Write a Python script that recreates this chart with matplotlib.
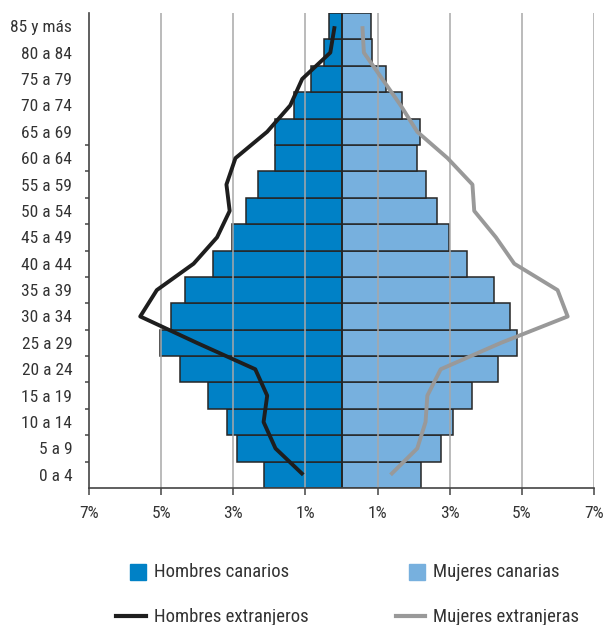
import matplotlib
matplotlib.use("Agg")
import matplotlib.pyplot as plt
from matplotlib.patches import Rectangle
from matplotlib.lines import Line2D
import numpy as np

plt.rcParams['font.family'] = ['Roboto Condensed', 'DejaVu Sans']

grupos = ["0 a 4", "5 a 9", "10 a 14", "15 a 19", "20 a 24", "25 a 29", "30 a 34",
          "35 a 39", "40 a 44", "45 a 49", "50 a 54", "55 a 59", "60 a 64",
          "65 a 69", "70 a 74", "75 a 79", "80 a 84", "85 y más"]

hombres_canarios = [2.16, 2.90, 3.18, 3.70, 4.48, 5.04, 4.74, 4.33, 3.55, 3.03,
                    2.66, 2.32, 1.84, 1.84, 1.31, 0.84, 0.49, 0.35]
mujeres_canarias = [2.20, 2.75, 3.10, 3.63, 4.33, 4.86, 4.67, 4.23, 3.48, 2.99,
                    2.66, 2.33, 2.10, 2.19, 1.69, 1.24, 0.84, 0.82]
hombres_extranjeros = [1.06, 1.83, 2.16, 2.06, 2.39, 4.01, 5.58, 5.12, 4.10, 3.45,
                       3.10, 3.19, 2.94, 2.06, 1.42, 1.09, 0.31, 0.19]
mujeres_extranjeras = [1.36, 2.10, 2.33, 2.38, 2.75, 4.42, 6.27, 5.99, 4.79, 4.28,
                       3.68, 3.63, 2.94, 2.10, 1.64, 1.13, 0.62, 0.58]

xticks = [-7, -5, -3, -1, 1, 3, 5, 7]
xtick_labels = ["7%", "5%", "3%", "1%", "1%", "3%", "5%", "7%"]

leyenda = ["Hombres canarios", "Mujeres canarias", "Hombres extranjeros", "Mujeres extranjeras"]

c_h = "#0081C6"
c_m = "#77B0DE"
c_he = "#1E1E1E"
c_me = "#999999"
edge = "#262626"
txt = "#333333"

W, H = 607, 625
fig = plt.figure(figsize=(W / 100, H / 100), dpi=100)
ax = fig.add_axes([89 / W, 137 / H, 505 / W, 475 / H])

y = np.arange(len(grupos))
ax.barh(y, -np.array(hombres_canarios), height=1.0, color=c_h, edgecolor=edge,
        linewidth=1.1, zorder=1)
ax.barh(y, mujeres_canarias, height=1.0, color=c_m, edgecolor=edge,
        linewidth=1.1, zorder=1)

for xv in [-5, -3, -1, 1, 3, 5, 7]:
    ax.axvline(xv, color="#A8A8A8", lw=1.1, zorder=2)
ax.axvline(0, color=edge, lw=1.3, zorder=2.5)

ax.plot(-np.array(hombres_extranjeros), y, color=c_he, lw=2.8, zorder=3,
        solid_joinstyle="round", solid_capstyle="butt")
ax.plot(mujeres_extranjeras, y, color=c_me, lw=2.8, zorder=3,
        solid_joinstyle="round", solid_capstyle="butt")

ax.set_xlim(-7, 7)
ax.set_ylim(-0.5, len(grupos) - 0.5)

for s in ["top", "right"]:
    ax.spines[s].set_visible(False)
for s in ["left", "bottom"]:
    ax.spines[s].set_color("#444444")
    ax.spines[s].set_linewidth(1.2)
    ax.spines[s].set_zorder(4)

ax.set_xticks(xticks)
ax.set_xticklabels(xtick_labels)
ax.tick_params(axis="x", direction="out", length=5, width=1.1, color="#444444",
               pad=8, labelsize=12.5, labelcolor=txt)

ax.set_yticks(y)
ax.set_yticklabels(grupos)
ax.tick_params(axis="y", which="major", length=0, pad=12, labelsize=12.5, labelcolor=txt)
ax.set_yticks(np.arange(0.5, 13.0, 1.0), minor=True)
ax.tick_params(axis="y", which="minor", direction="out", length=3, width=1.1,
               color="#444444")

# legend (manual)
fs_leg = 13.5
fig.add_artist(Rectangle((130 / W, 1 - 580 / H), 15.5 / W, 16 / H,
                         transform=fig.transFigure, color=c_h))
fig.text(154 / W, 1 - 572 / H, leyenda[0], fontsize=fs_leg, color=txt, va="center")
fig.add_artist(Rectangle((409 / W, 1 - 580 / H), 16 / W, 16 / H,
                         transform=fig.transFigure, color=c_m))
fig.text(433 / W, 1 - 572 / H, leyenda[1], fontsize=fs_leg, color=txt, va="center")
fig.add_artist(Line2D([116 / W, 145.7 / W], [1 - 616 / H, 1 - 616 / H],
                      transform=fig.transFigure, color=c_he, lw=3))
fig.text(154 / W, 1 - 617 / H, leyenda[2], fontsize=fs_leg, color=txt, va="center")
fig.add_artist(Line2D([395.7 / W, 425 / W], [1 - 616 / H, 1 - 616 / H],
                      transform=fig.transFigure, color=c_me, lw=3))
fig.text(433 / W, 1 - 617 / H, leyenda[3], fontsize=fs_leg, color=txt, va="center")

fig.savefig("out.png", dpi=100)
